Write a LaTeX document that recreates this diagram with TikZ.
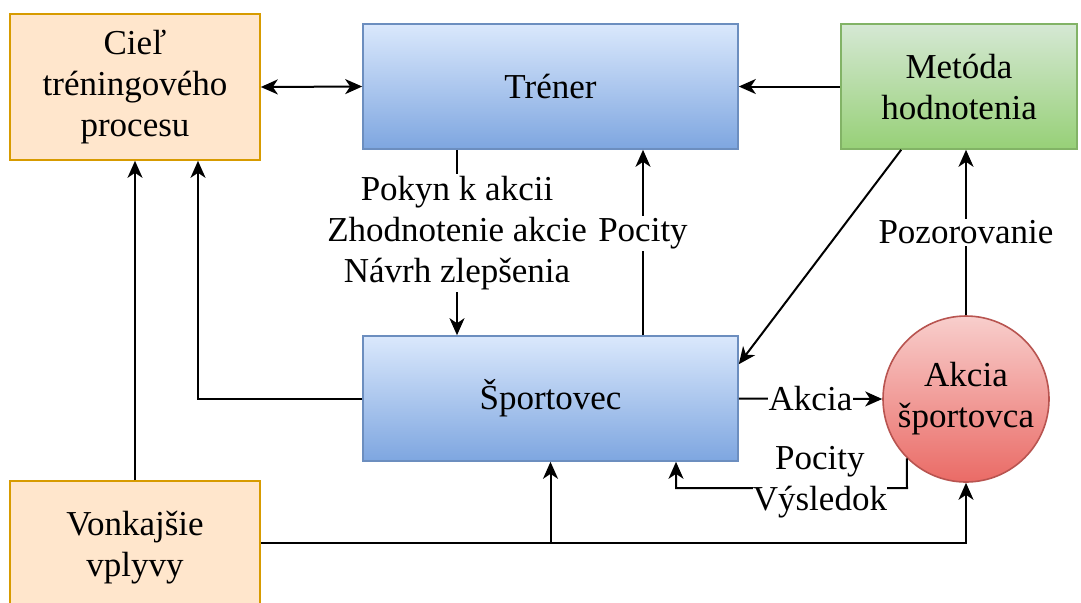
\documentclass[tikz,border=0pt]{standalone}
\usepackage{fontspec}
\setmainfont{Liberation Serif}
\newfontfamily\tnr{Liberation Serif}
\usetikzlibrary{arrows.meta,calc}
\definecolor{blueT}{HTML}{DAE8FC}
\definecolor{blueB}{HTML}{7EA6E0}
\definecolor{blueD}{HTML}{6C8EBF}
\definecolor{greenT}{HTML}{D5E8D4}
\definecolor{greenB}{HTML}{97D077}
\definecolor{greenD}{HTML}{82B366}
\definecolor{redT}{HTML}{F8CECC}
\definecolor{redB}{HTML}{EA6B66}
\definecolor{redD}{HTML}{B85450}
\definecolor{orangeF}{HTML}{FFE6CC}
\definecolor{orangeD}{HTML}{D79B00}
\tikzset{
  txt/.style={font=\tnr\fontsize{17.5}{20.5}\selectfont, align=center},
  bluebox/.style={txt, draw=blueD, line width=0.8pt, top color=blueT, bottom color=blueB, minimum width=187.5pt, minimum height=62.5pt, inner sep=0pt},
  greenbox/.style={txt, draw=greenD, line width=0.8pt, top color=greenT, bottom color=greenB, minimum width=118pt, minimum height=62.5pt, inner sep=0pt},
  orangebox/.style={txt, draw=orangeD, line width=0.8pt, fill=orangeF, minimum width=125pt, inner sep=0pt},
  redcirc/.style={txt, circle, draw=redD, line width=0.8pt, top color=redT, bottom color=redB, minimum size=83pt, inner sep=0pt},
  tip/.tip={Stealth[length=8.5pt,width=7.5pt,inset=2.5pt]},
  arr/.style={line width=1pt, -tip},
  darr/.style={line width=1pt, tip-tip},
  lbl/.style={txt, fill=white, inner sep=1pt}
}
\begin{document}
\begin{tikzpicture}[x=0.5pt,y=-0.5pt]
\useasboundingbox (0,0) rectangle (1081,602);
\node[orangebox, minimum height=73pt] (cil) at (135,87) {Cieľ\\tréningového\\procesu};
\node[bluebox] (tr) at (550.5,86.5) {Tréner};
\node[greenbox] (met) at (959,86.5) {Metóda\\hodnotenia};
\node[bluebox] (sp) at (550.5,398.5) {Športovec};
\node[redcirc] (circ) at (966,399) {Akcia\\športovca};
\node[orangebox, minimum height=67pt] (von) at (135,548) {Vonkajšie\\vplyvy};

\draw[darr] (cil.east) -- (tr.west);
\draw[arr] (met.west) -- (tr.east);
\draw[arr] ([xshift=-46.75pt]tr.south) -- node[lbl, pos=0.45] {Pokyn k akcii\\Zhodnotenie akcie\\Návrh zlepšenia} ([xshift=-46.75pt]sp.north);
\draw[arr] ([xshift=46.25pt]sp.north) -- node[lbl, pos=0.55] {Pocity} ([xshift=46.25pt]tr.south);
\draw[arr] ([xshift=30.5pt]met.south west) -- ([yshift=-14.5pt]sp.north east);
\draw[arr] (sp.east) -- node[lbl, inner sep=0.5pt] {Akcia} (circ.west);
\draw[arr] (circ.north) -- node[lbl] {Pozorovanie} (circ.north |- met.south);
\coordinate (fb) at (907,488);
\draw[arr] (circ.225) -- (fb) -- node[lbl, pos=0.377, yshift=3pt, inner sep=0pt] {Pocity\\Výsledok} (fb -| 676,0) -- (676,0 |- sp.south);
\draw[arr] (von.north) -- (cil.south);
\draw[arr] (sp.west) -| ([xshift=31.5pt]cil.south);
\coordinate (vone) at ([yshift=2.5pt]von.east);
\draw[arr] (vone) -| (circ.south);
\draw[arr] (vone -| sp.south) -- (sp.south);
\end{tikzpicture}
\end{document}
